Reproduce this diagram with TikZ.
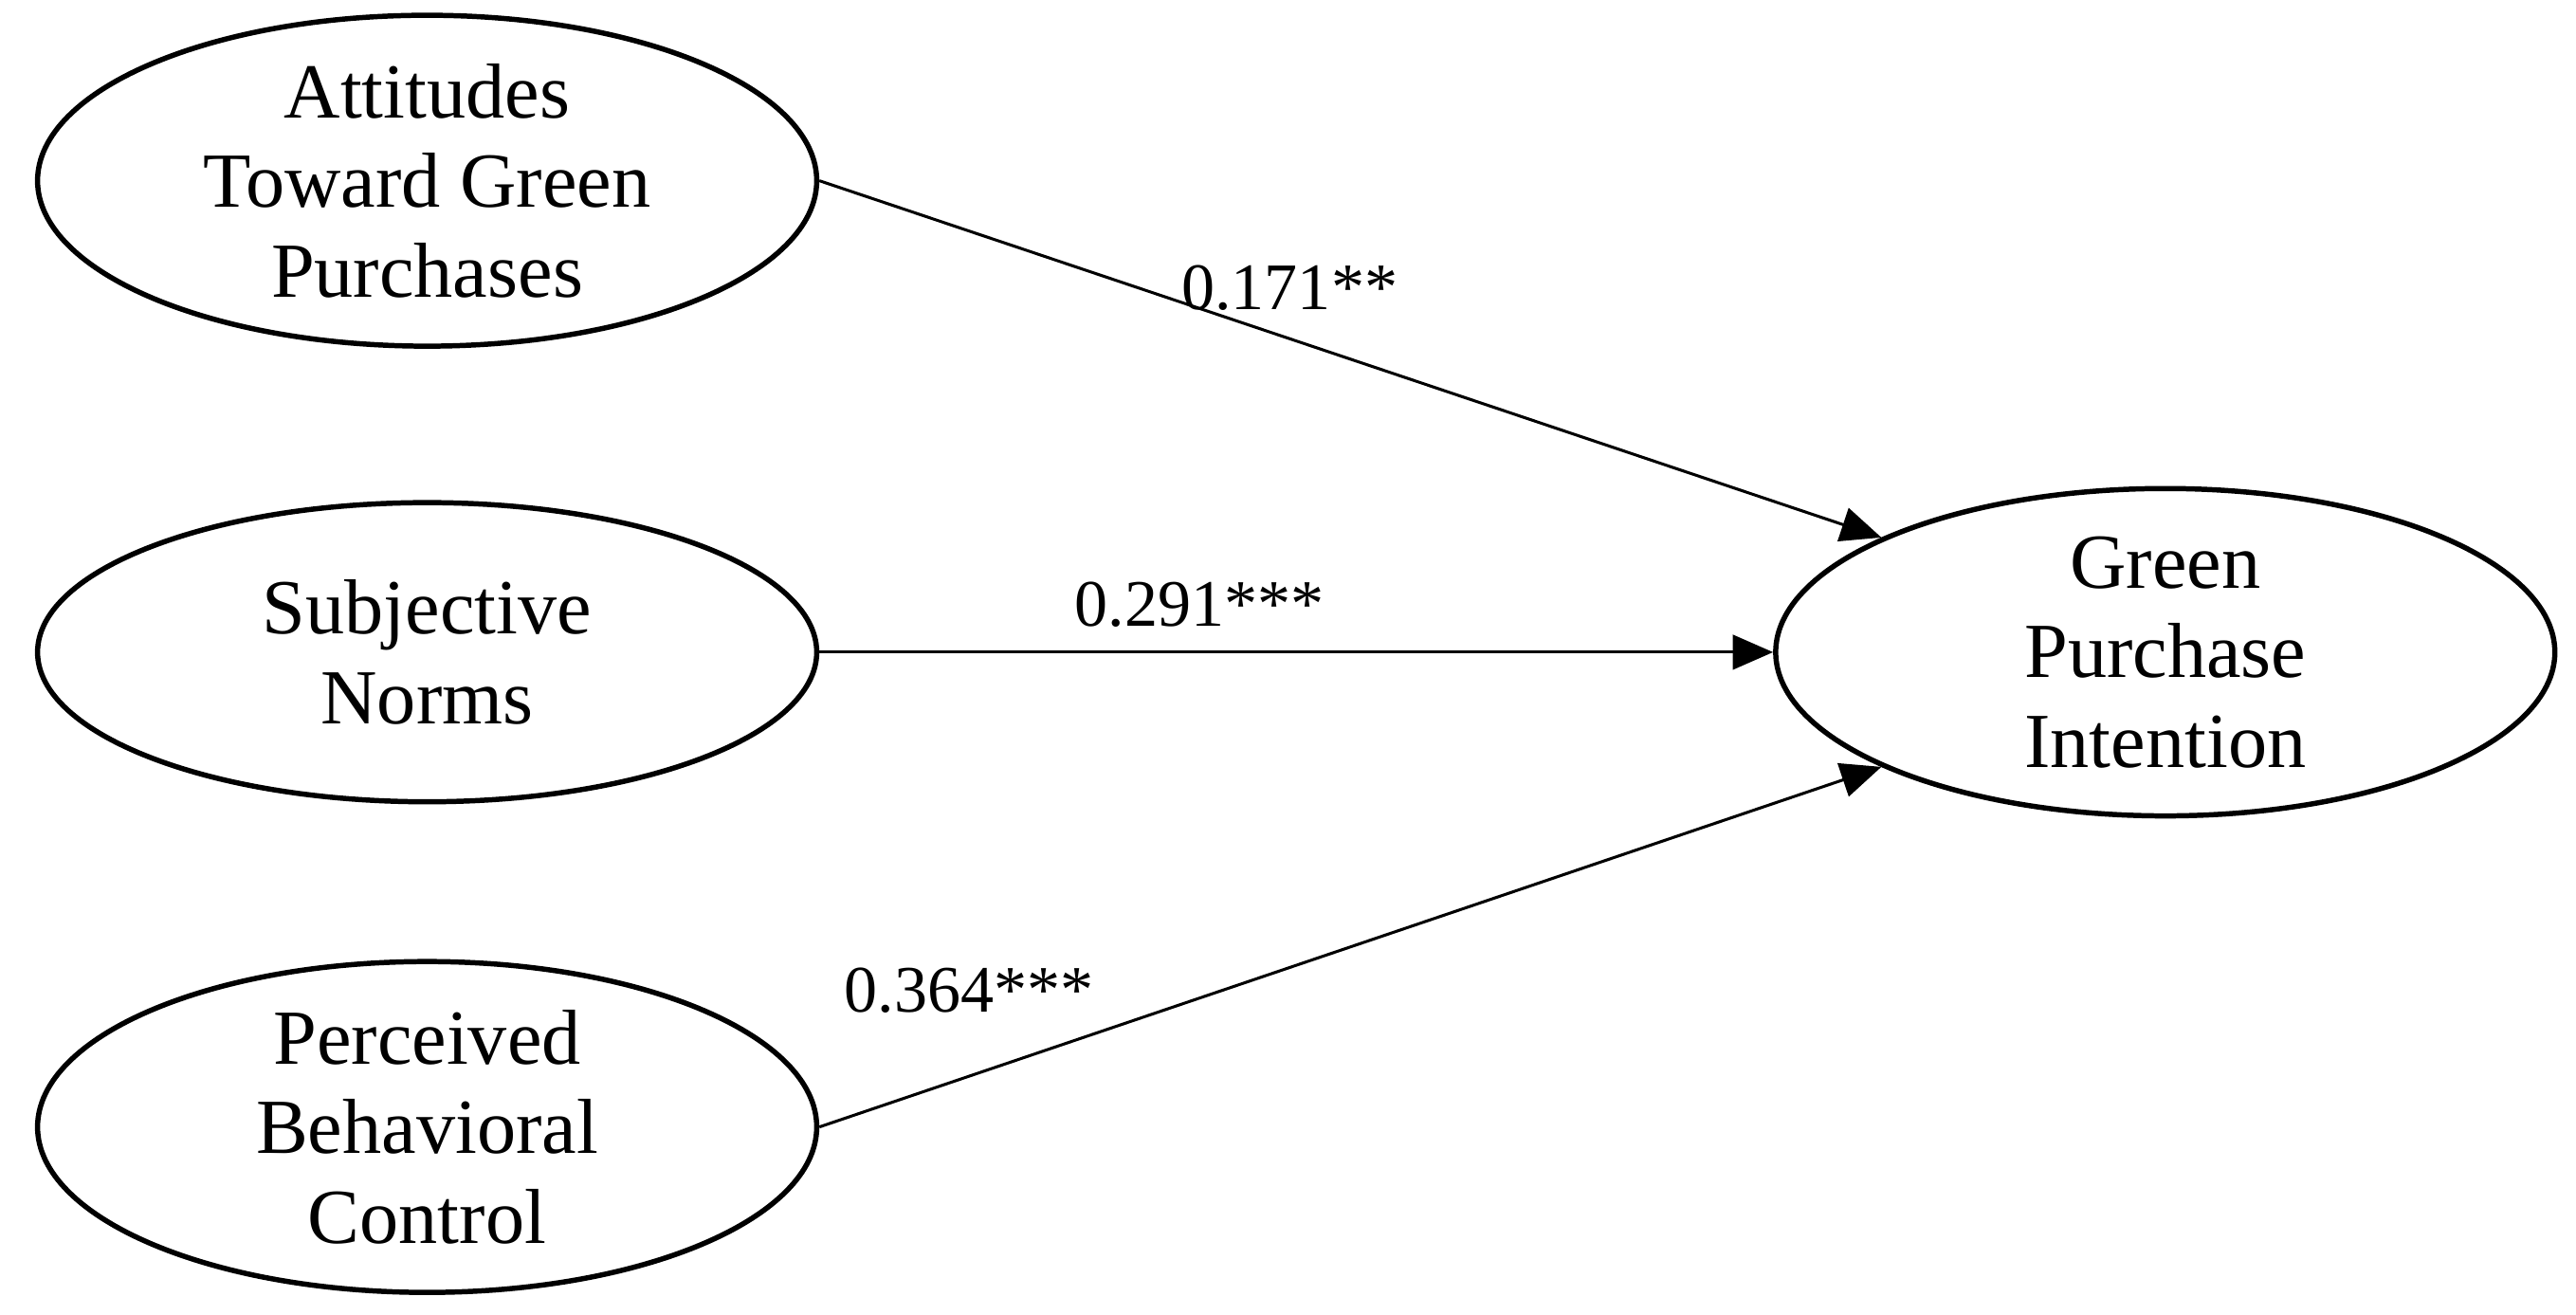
\documentclass[tikz,border=0pt]{standalone}
\usepackage{fontspec}
\setmainfont{Liberation Serif}
\usetikzlibrary{shapes.geometric,arrows.meta}
\begin{document}
\begin{tikzpicture}[x=0.01cm,y=-0.01cm,
  lat/.style={draw,ellipse,line width=0.9pt,minimum width=474\pgflinewidth*0+4.74cm,minimum height=1.82cm,align=center,font=\fontsize{13.5}{15.5}\selectfont,inner sep=0pt},
  path/.style={-{Triangle[length=7pt,width=6pt]},line width=0.5pt},
  lab/.style={font=\fontsize{11.5}{13}\selectfont}]
\useasboundingbox (0,0) rectangle (1568,800);
\node[lat] (a) at (260,110) {Attitudes\\Toward Green\\Purchases};
\node[lat] (s) at (260,397) {Subjective\\Norms};
\node[lat] (p) at (260,686) {Perceived\\Behavioral\\Control};
\node[lat] (g) at (1318,397) {Green\\Purchase\\Intention};
\draw[path] (a.east) -- (g.158);
\draw[path] (s.east) -- (g.west);
\draw[path] (p.east) -- (g.202);
\node[lab] (l1) at (785,175) {0.171**};
\node[lab] (l2) at (730,368) {0.291***};
\node[lab] (l3) at (590,603) {0.364***};
\end{tikzpicture}
\end{document}
